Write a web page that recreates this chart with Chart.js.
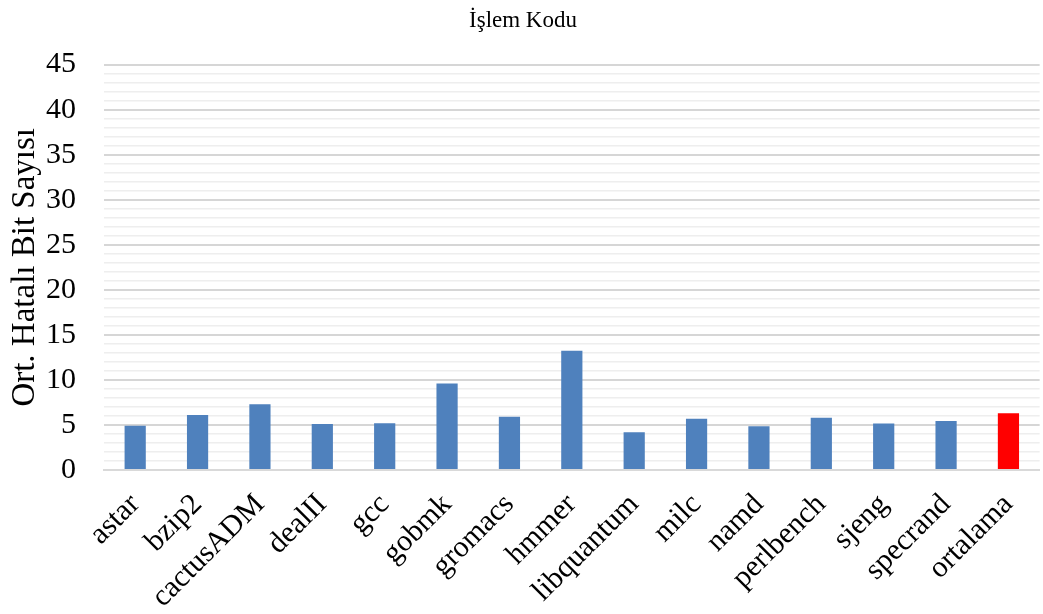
<!DOCTYPE html>
<html>
<head>
<meta charset="utf-8">
<script src="https://cdn.jsdelivr.net/npm/chart.js@4/dist/chart.umd.min.js"></script>
<style>
  html, body { margin: 0; padding: 0; background: #fff; }
  #wrap { width: 1043px; height: 614px; }
</style>
</head>
<body>
<div id="wrap"><canvas id="c"></canvas></div>
<script>
// Veriler
const categories = ['astar', 'bzip2', 'cactusADM', 'dealII', 'gcc', 'gobmk', 'gromacs', 'hmmer',
    'libquantum', 'milc', 'namd', 'perlbench', 'sjeng', 'specrand', 'ortalama'];
const values = [4.9, 6.1, 7.3, 5.1, 5.2, 9.6, 5.9, 13.25, 4.2, 5.7, 4.85, 5.8, 5.15, 5.45, 6.3];
const yMax = 45;
const chartTitle = 'İşlem Kodu';
const yTitle = 'Ort. Hatalı Bit Sayısı';

const SERIF = "'Liberation Serif', 'Times New Roman', serif";
const BLUE = '#4f81bd';
const RED = '#ff0000';

Chart.defaults.font.family = SERIF;
Chart.defaults.color = '#000';

const colors = categories.map((c, i) => i === categories.length - 1 ? RED : BLUE);

new Chart(document.getElementById('c'), {
    type: 'bar',
    data: {
        labels: categories,
        datasets: [{
            data: values,
            backgroundColor: colors,
            borderWidth: 0,
            categoryPercentage: 1,
            barPercentage: 0.34,
        }],
    },
    options: {
        responsive: true,
        maintainAspectRatio: false,
        animation: false,
        layout: { padding: { top: 0, right: 3, left: 6, bottom: 0 } },
        plugins: {
            legend: { display: false },
            tooltip: { enabled: false },
            title: {
                display: true,
                text: chartTitle,
                font: { size: 23, weight: 'normal', family: SERIF },
                color: '#000',
                padding: { top: 7, bottom: 30 },
            },
        },
        scales: {
            x: {
                grid: { display: false },
                border: { display: true, color: '#d9d9d9', width: 2 },
                afterFit: s => { s.height = 144; },
                ticks: {
                    font: { size: 30, family: SERIF },
                    color: '#000',
                    minRotation: 45,
                    maxRotation: 45,
                    autoSkip: false,
                    padding: 9,
                },
            },
            y: {
                min: 0,
                max: yMax,
                border: { display: false },
                afterFit: s => { s.width = 98; },
                grid: {
                    color: ctx => (ctx.tick && ctx.tick.value % 5 === 0) ? '#d6d6d6' : '#eeeeee',
                    lineWidth: ctx => (ctx.tick && ctx.tick.value % 5 === 0) ? 2 : 1.5,
                    drawTicks: false,
                },
                ticks: {
                    stepSize: 1,
                    autoSkip: false,
                    font: { size: 30, family: SERIF },
                    color: '#000',
                    padding: 28,
                    callback: v => (v % 5 === 0 ? String(v) : ''),
                },
                title: {
                    display: true,
                    text: yTitle,
                    font: { size: 33, family: SERIF },
                    color: '#000',
                    padding: { top: 0, bottom: 0 },
                },
            },
        },
    },
});
</script>
</body>
</html>
